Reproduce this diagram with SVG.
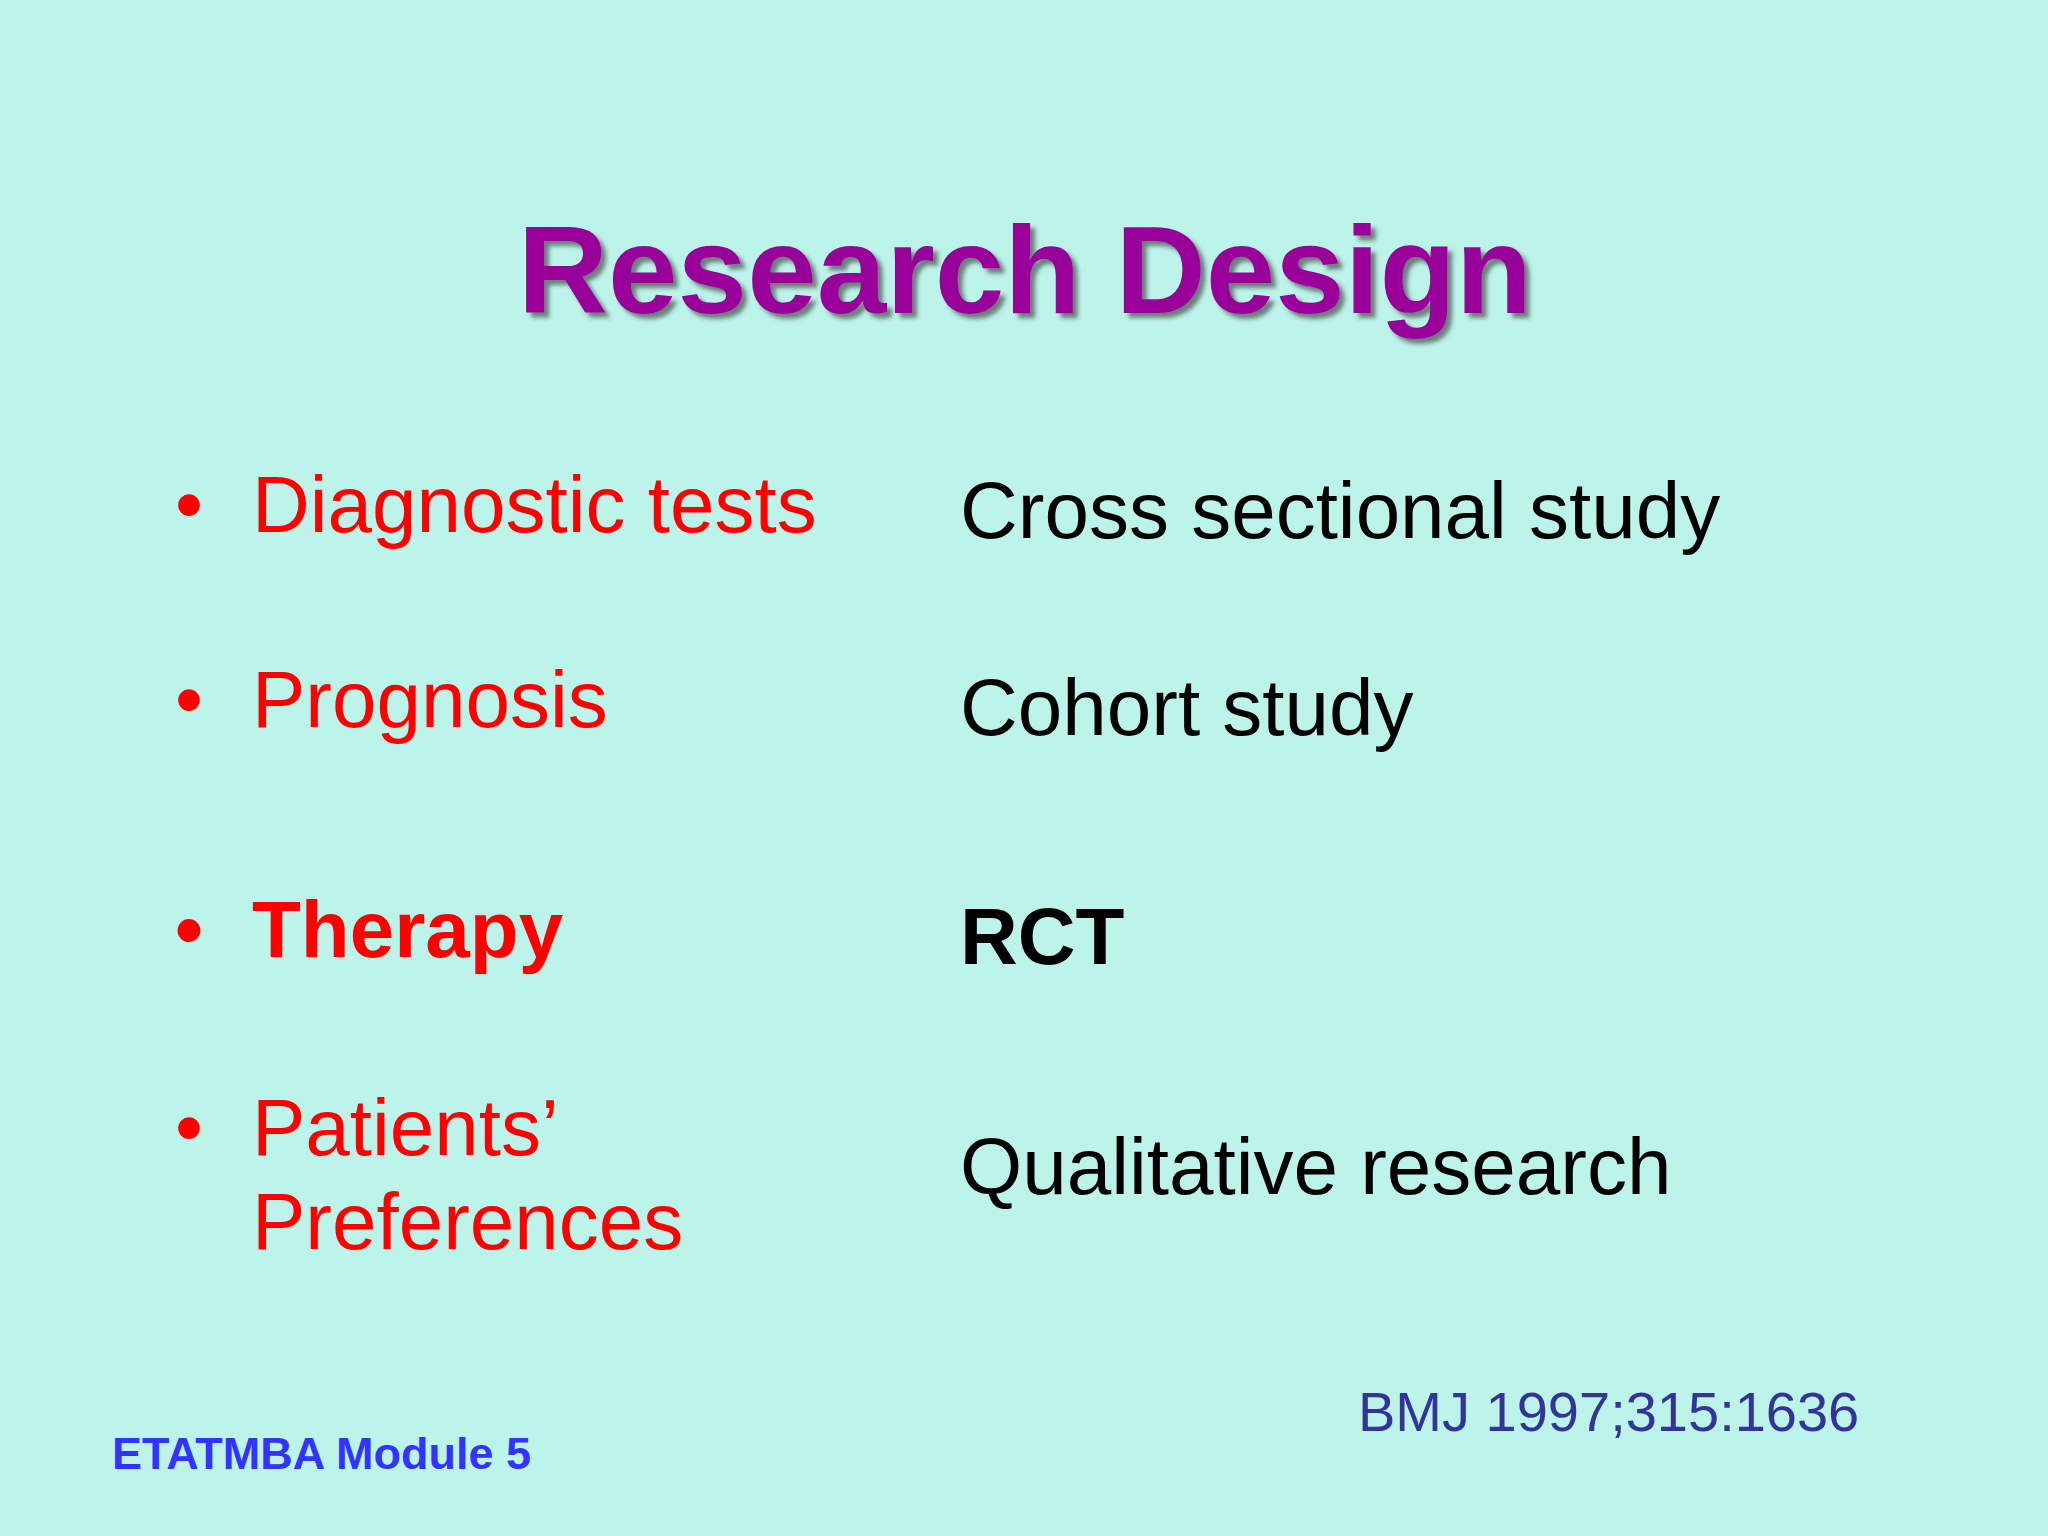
<svg xmlns="http://www.w3.org/2000/svg" width="2048" height="1536" viewBox="0 0 2048 1536">
<defs><style>
.l{font-family:"Liberation Sans",Arial,sans-serif;font-size:80px;fill:#ff0000}
.r{font-family:"Liberation Sans",Arial,sans-serif;font-size:80px;fill:#000}
.b{font-weight:bold}
</style>
<filter id="sh" x="-5%" y="-20%" width="110%" height="140%"><feDropShadow dx="5" dy="5" stdDeviation="2" flood-color="#333" flood-opacity="0.6"/></filter>
</defs>
<rect width="2048" height="1536" fill="#bcf4e9"/>
<g id="title" font-family="Liberation Sans,Arial,sans-serif" font-weight="bold" font-size="125" text-anchor="middle">
<text x="1025" y="313" fill="#990099" filter="url(#sh)">Research Design</text>
</g>
<g id="left">
<text class="l" x="175" y="532">•</text><text class="l" x="252" y="532">Diagnostic tests</text>
<text class="l" x="175" y="727">•</text><text class="l" x="252" y="727">Prognosis</text>
<text class="l b" x="175" y="957">•</text><text class="l b" x="252" y="957">Therapy</text>
<text class="l" x="175" y="1155">•</text><text class="l" x="252" y="1155">Patients’</text>
<text class="l" x="252" y="1249">Preferences</text>
</g>
<g id="right">
<text class="r" x="960" y="538">Cross sectional study</text>
<text class="r" x="960" y="735">Cohort study</text>
<text class="r b" x="960" y="964">RCT</text>
<text class="r" x="960" y="1194">Qualitative research</text>
</g>
<g id="footer" font-family="Liberation Sans,Arial,sans-serif">
<text x="1358" y="1431" font-size="56" fill="#333399">BMJ 1997;315:1636</text>
<text x="112" y="1469" font-size="45" font-weight="bold" fill="#3333ff">ETATMBA Module 5</text>
</g>
</svg>
